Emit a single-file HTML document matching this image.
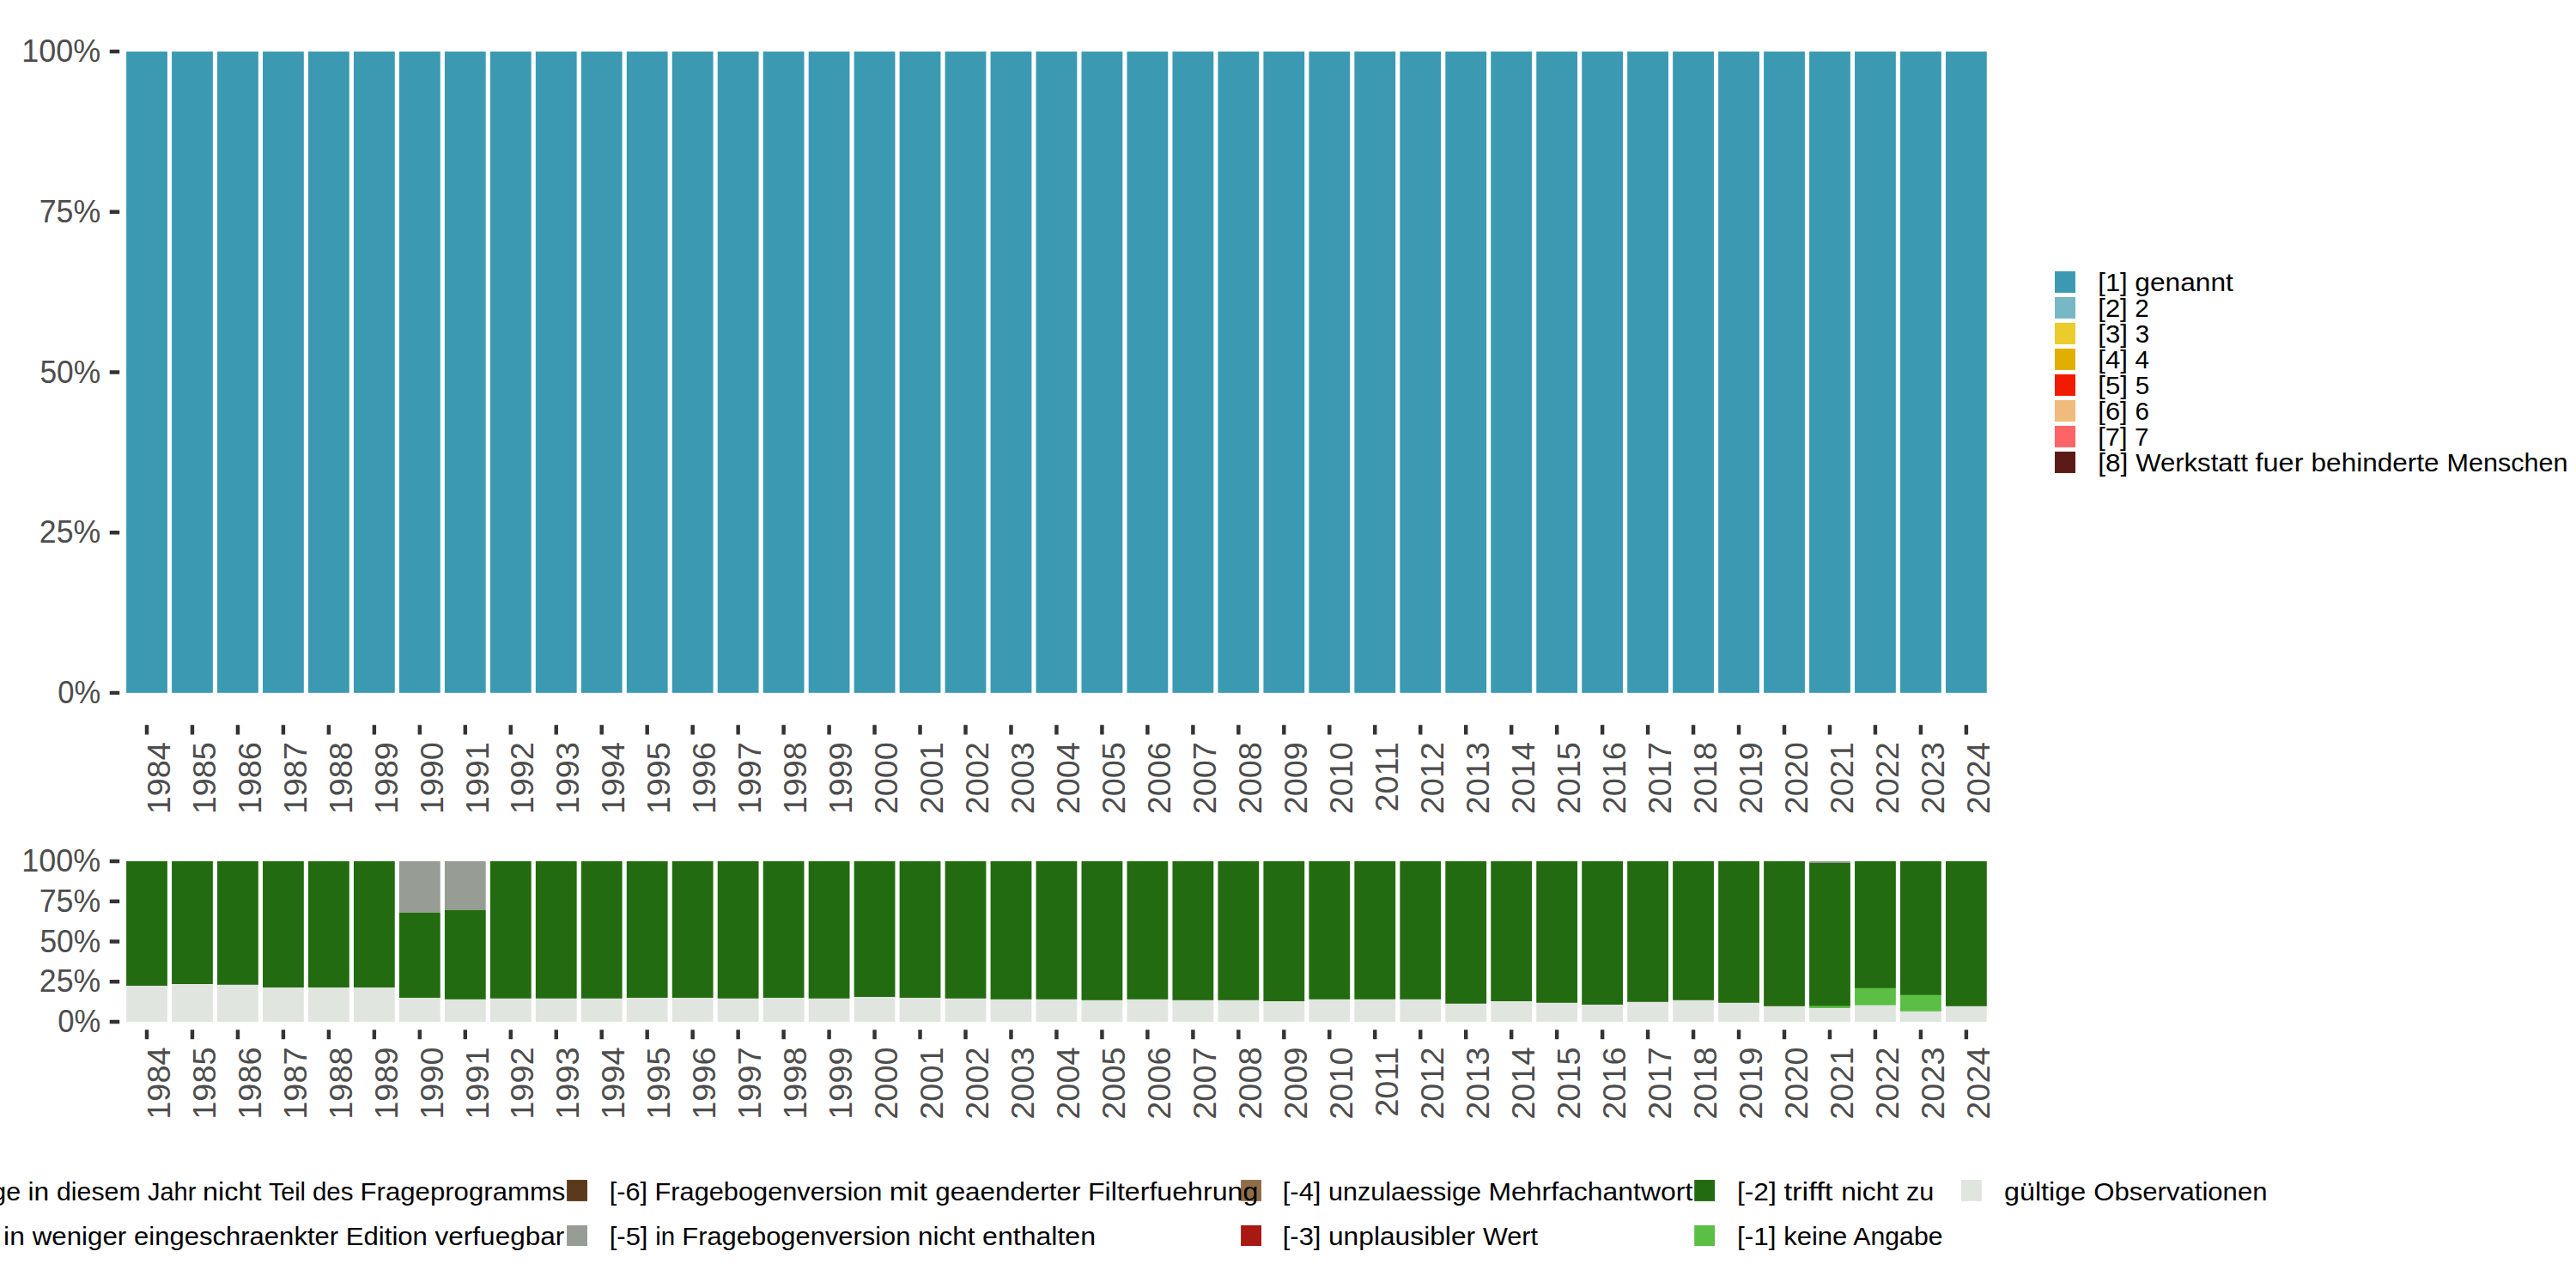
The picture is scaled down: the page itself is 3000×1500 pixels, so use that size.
<!DOCTYPE html>
<html lang="de"><head><meta charset="utf-8"><title>Werkstatt fuer behinderte Menschen</title>
<style>
html,body{margin:0;padding:0;background:#fff;}
body{width:3000px;height:1500px;overflow:hidden;}
svg{display:block;}
text{font-family:"Liberation Sans", sans-serif;}
.ax{fill:#4D4D4D;font-size:36.67px;}
.lg{fill:#000;font-size:29.6px;}
.tk{stroke:#333333;stroke-width:4.45;fill:none;}
</style></head><body>
<svg width="3000" height="1500" viewBox="0 0 3000 1500">
<rect x="0" y="0" width="3000" height="1500" fill="#ffffff"/>
<g fill="#3B9AB2">
<rect x="147.1" y="60.05" width="47.8" height="746.8"/>
<rect x="200.07" y="60.05" width="47.8" height="746.8"/>
<rect x="253.04" y="60.05" width="47.8" height="746.8"/>
<rect x="306.02" y="60.05" width="47.8" height="746.8"/>
<rect x="358.99" y="60.05" width="47.8" height="746.8"/>
<rect x="411.96" y="60.05" width="47.8" height="746.8"/>
<rect x="464.93" y="60.05" width="47.8" height="746.8"/>
<rect x="517.91" y="60.05" width="47.8" height="746.8"/>
<rect x="570.88" y="60.05" width="47.8" height="746.8"/>
<rect x="623.85" y="60.05" width="47.8" height="746.8"/>
<rect x="676.82" y="60.05" width="47.8" height="746.8"/>
<rect x="729.8" y="60.05" width="47.8" height="746.8"/>
<rect x="782.77" y="60.05" width="47.8" height="746.8"/>
<rect x="835.74" y="60.05" width="47.8" height="746.8"/>
<rect x="888.72" y="60.05" width="47.8" height="746.8"/>
<rect x="941.69" y="60.05" width="47.8" height="746.8"/>
<rect x="994.66" y="60.05" width="47.8" height="746.8"/>
<rect x="1047.63" y="60.05" width="47.8" height="746.8"/>
<rect x="1100.6" y="60.05" width="47.8" height="746.8"/>
<rect x="1153.58" y="60.05" width="47.8" height="746.8"/>
<rect x="1206.55" y="60.05" width="47.8" height="746.8"/>
<rect x="1259.52" y="60.05" width="47.8" height="746.8"/>
<rect x="1312.49" y="60.05" width="47.8" height="746.8"/>
<rect x="1365.47" y="60.05" width="47.8" height="746.8"/>
<rect x="1418.44" y="60.05" width="47.8" height="746.8"/>
<rect x="1471.41" y="60.05" width="47.8" height="746.8"/>
<rect x="1524.38" y="60.05" width="47.8" height="746.8"/>
<rect x="1577.36" y="60.05" width="47.8" height="746.8"/>
<rect x="1630.33" y="60.05" width="47.8" height="746.8"/>
<rect x="1683.3" y="60.05" width="47.8" height="746.8"/>
<rect x="1736.27" y="60.05" width="47.8" height="746.8"/>
<rect x="1789.25" y="60.05" width="47.8" height="746.8"/>
<rect x="1842.22" y="60.05" width="47.8" height="746.8"/>
<rect x="1895.19" y="60.05" width="47.8" height="746.8"/>
<rect x="1948.16" y="60.05" width="47.8" height="746.8"/>
<rect x="2001.14" y="60.05" width="47.8" height="746.8"/>
<rect x="2054.11" y="60.05" width="47.8" height="746.8"/>
<rect x="2107.08" y="60.05" width="47.8" height="746.8"/>
<rect x="2160.05" y="60.05" width="47.8" height="746.8"/>
<rect x="2213.03" y="60.05" width="47.8" height="746.8"/>
<rect x="2266" y="60.05" width="47.8" height="746.8"/>
</g>
<g>
<rect x="147.1" y="1003" width="47.8" height="145" fill="#236B10"/>
<rect x="147.1" y="1148" width="47.8" height="41.95" fill="#E1E5E0"/>
<rect x="200.07" y="1003" width="47.8" height="143.1" fill="#236B10"/>
<rect x="200.07" y="1146.1" width="47.8" height="43.85" fill="#E1E5E0"/>
<rect x="253.04" y="1003" width="47.8" height="143.9" fill="#236B10"/>
<rect x="253.04" y="1146.9" width="47.8" height="43.05" fill="#E1E5E0"/>
<rect x="306.02" y="1003" width="47.8" height="147" fill="#236B10"/>
<rect x="306.02" y="1150" width="47.8" height="39.95" fill="#E1E5E0"/>
<rect x="358.99" y="1003" width="47.8" height="147" fill="#236B10"/>
<rect x="358.99" y="1150" width="47.8" height="39.95" fill="#E1E5E0"/>
<rect x="411.96" y="1003" width="47.8" height="147" fill="#236B10"/>
<rect x="411.96" y="1150" width="47.8" height="39.95" fill="#E1E5E0"/>
<rect x="464.93" y="1003" width="47.8" height="59.8" fill="#979C95"/>
<rect x="464.93" y="1062.8" width="47.8" height="99.2" fill="#236B10"/>
<rect x="464.93" y="1162" width="47.8" height="27.95" fill="#E1E5E0"/>
<rect x="517.91" y="1003" width="47.8" height="56.8" fill="#979C95"/>
<rect x="517.91" y="1059.8" width="47.8" height="104.1" fill="#236B10"/>
<rect x="517.91" y="1163.9" width="47.8" height="26.05" fill="#E1E5E0"/>
<rect x="570.88" y="1003" width="47.8" height="159.9" fill="#236B10"/>
<rect x="570.88" y="1162.9" width="47.8" height="27.05" fill="#E1E5E0"/>
<rect x="623.85" y="1003" width="47.8" height="159.9" fill="#236B10"/>
<rect x="623.85" y="1162.9" width="47.8" height="27.05" fill="#E1E5E0"/>
<rect x="676.82" y="1003" width="47.8" height="159.9" fill="#236B10"/>
<rect x="676.82" y="1162.9" width="47.8" height="27.05" fill="#E1E5E0"/>
<rect x="729.8" y="1003" width="47.8" height="159" fill="#236B10"/>
<rect x="729.8" y="1162" width="47.8" height="27.95" fill="#E1E5E0"/>
<rect x="782.77" y="1003" width="47.8" height="159" fill="#236B10"/>
<rect x="782.77" y="1162" width="47.8" height="27.95" fill="#E1E5E0"/>
<rect x="835.74" y="1003" width="47.8" height="159.9" fill="#236B10"/>
<rect x="835.74" y="1162.9" width="47.8" height="27.05" fill="#E1E5E0"/>
<rect x="888.72" y="1003" width="47.8" height="159" fill="#236B10"/>
<rect x="888.72" y="1162" width="47.8" height="27.95" fill="#E1E5E0"/>
<rect x="941.69" y="1003" width="47.8" height="159.9" fill="#236B10"/>
<rect x="941.69" y="1162.9" width="47.8" height="27.05" fill="#E1E5E0"/>
<rect x="994.66" y="1003" width="47.8" height="158" fill="#236B10"/>
<rect x="994.66" y="1161" width="47.8" height="28.95" fill="#E1E5E0"/>
<rect x="1047.63" y="1003" width="47.8" height="159" fill="#236B10"/>
<rect x="1047.63" y="1162" width="47.8" height="27.95" fill="#E1E5E0"/>
<rect x="1100.6" y="1003" width="47.8" height="159.9" fill="#236B10"/>
<rect x="1100.6" y="1162.9" width="47.8" height="27.05" fill="#E1E5E0"/>
<rect x="1153.58" y="1003" width="47.8" height="160.9" fill="#236B10"/>
<rect x="1153.58" y="1163.9" width="47.8" height="26.05" fill="#E1E5E0"/>
<rect x="1206.55" y="1003" width="47.8" height="160.9" fill="#236B10"/>
<rect x="1206.55" y="1163.9" width="47.8" height="26.05" fill="#E1E5E0"/>
<rect x="1259.52" y="1003" width="47.8" height="161.9" fill="#236B10"/>
<rect x="1259.52" y="1164.9" width="47.8" height="25.05" fill="#E1E5E0"/>
<rect x="1312.49" y="1003" width="47.8" height="160.9" fill="#236B10"/>
<rect x="1312.49" y="1163.9" width="47.8" height="26.05" fill="#E1E5E0"/>
<rect x="1365.47" y="1003" width="47.8" height="161.9" fill="#236B10"/>
<rect x="1365.47" y="1164.9" width="47.8" height="25.05" fill="#E1E5E0"/>
<rect x="1418.44" y="1003" width="47.8" height="161.9" fill="#236B10"/>
<rect x="1418.44" y="1164.9" width="47.8" height="25.05" fill="#E1E5E0"/>
<rect x="1471.41" y="1003" width="47.8" height="163" fill="#236B10"/>
<rect x="1471.41" y="1166" width="47.8" height="23.95" fill="#E1E5E0"/>
<rect x="1524.38" y="1003" width="47.8" height="160.9" fill="#236B10"/>
<rect x="1524.38" y="1163.9" width="47.8" height="26.05" fill="#E1E5E0"/>
<rect x="1577.36" y="1003" width="47.8" height="160.9" fill="#236B10"/>
<rect x="1577.36" y="1163.9" width="47.8" height="26.05" fill="#E1E5E0"/>
<rect x="1630.33" y="1003" width="47.8" height="160.9" fill="#236B10"/>
<rect x="1630.33" y="1163.9" width="47.8" height="26.05" fill="#E1E5E0"/>
<rect x="1683.3" y="1003" width="47.8" height="165.9" fill="#236B10"/>
<rect x="1683.3" y="1168.9" width="47.8" height="21.05" fill="#E1E5E0"/>
<rect x="1736.27" y="1003" width="47.8" height="163" fill="#236B10"/>
<rect x="1736.27" y="1166" width="47.8" height="23.95" fill="#E1E5E0"/>
<rect x="1789.25" y="1003" width="47.8" height="164.9" fill="#236B10"/>
<rect x="1789.25" y="1167.9" width="47.8" height="22.05" fill="#E1E5E0"/>
<rect x="1842.22" y="1003" width="47.8" height="167" fill="#236B10"/>
<rect x="1842.22" y="1170" width="47.8" height="19.95" fill="#E1E5E0"/>
<rect x="1895.19" y="1003" width="47.8" height="163.9" fill="#236B10"/>
<rect x="1895.19" y="1166.9" width="47.8" height="23.05" fill="#E1E5E0"/>
<rect x="1948.16" y="1003" width="47.8" height="161.9" fill="#236B10"/>
<rect x="1948.16" y="1164.9" width="47.8" height="25.05" fill="#E1E5E0"/>
<rect x="2001.14" y="1003" width="47.8" height="164.9" fill="#236B10"/>
<rect x="2001.14" y="1167.9" width="47.8" height="22.05" fill="#E1E5E0"/>
<rect x="2054.11" y="1003" width="47.8" height="168.9" fill="#236B10"/>
<rect x="2054.11" y="1171.9" width="47.8" height="18.05" fill="#E1E5E0"/>
<rect x="2107.08" y="1003" width="47.8" height="2" fill="#979C95"/>
<rect x="2107.08" y="1005" width="47.8" height="166.8" fill="#236B10"/>
<rect x="2107.08" y="1171.8" width="47.8" height="2.3" fill="#5BBF45"/>
<rect x="2107.08" y="1174.1" width="47.8" height="15.85" fill="#E1E5E0"/>
<rect x="2160.05" y="1003" width="47.8" height="147.9" fill="#236B10"/>
<rect x="2160.05" y="1150.9" width="47.8" height="19.9" fill="#5BBF45"/>
<rect x="2160.05" y="1170.8" width="47.8" height="19.15" fill="#E1E5E0"/>
<rect x="2213.03" y="1003" width="47.8" height="155.9" fill="#236B10"/>
<rect x="2213.03" y="1158.9" width="47.8" height="19" fill="#5BBF45"/>
<rect x="2213.03" y="1177.9" width="47.8" height="12.05" fill="#E1E5E0"/>
<rect x="2266" y="1003" width="47.8" height="168.9" fill="#236B10"/>
<rect x="2266" y="1171.9" width="47.8" height="18.05" fill="#E1E5E0"/>
</g>
<path class="tk" d="M127.75 60.05H139.2M127.75 246.75H139.2M127.75 433.45H139.2M127.75 620.15H139.2M127.75 806.85H139.2M127.75 1003H139.2M127.75 1049.74H139.2M127.75 1096.47H139.2M127.75 1143.21H139.2M127.75 1189.95H139.2M171 844.2V855.6M223.97 844.2V855.6M276.94 844.2V855.6M329.92 844.2V855.6M382.89 844.2V855.6M435.86 844.2V855.6M488.83 844.2V855.6M541.81 844.2V855.6M594.78 844.2V855.6M647.75 844.2V855.6M700.72 844.2V855.6M753.7 844.2V855.6M806.67 844.2V855.6M859.64 844.2V855.6M912.62 844.2V855.6M965.59 844.2V855.6M1018.56 844.2V855.6M1071.53 844.2V855.6M1124.5 844.2V855.6M1177.48 844.2V855.6M1230.45 844.2V855.6M1283.42 844.2V855.6M1336.39 844.2V855.6M1389.37 844.2V855.6M1442.34 844.2V855.6M1495.31 844.2V855.6M1548.28 844.2V855.6M1601.26 844.2V855.6M1654.23 844.2V855.6M1707.2 844.2V855.6M1760.17 844.2V855.6M1813.15 844.2V855.6M1866.12 844.2V855.6M1919.09 844.2V855.6M1972.06 844.2V855.6M2025.04 844.2V855.6M2078.01 844.2V855.6M2130.98 844.2V855.6M2183.95 844.2V855.6M2236.93 844.2V855.6M2289.9 844.2V855.6M171 1199.2V1210.3M223.97 1199.2V1210.3M276.94 1199.2V1210.3M329.92 1199.2V1210.3M382.89 1199.2V1210.3M435.86 1199.2V1210.3M488.83 1199.2V1210.3M541.81 1199.2V1210.3M594.78 1199.2V1210.3M647.75 1199.2V1210.3M700.72 1199.2V1210.3M753.7 1199.2V1210.3M806.67 1199.2V1210.3M859.64 1199.2V1210.3M912.62 1199.2V1210.3M965.59 1199.2V1210.3M1018.56 1199.2V1210.3M1071.53 1199.2V1210.3M1124.5 1199.2V1210.3M1177.48 1199.2V1210.3M1230.45 1199.2V1210.3M1283.42 1199.2V1210.3M1336.39 1199.2V1210.3M1389.37 1199.2V1210.3M1442.34 1199.2V1210.3M1495.31 1199.2V1210.3M1548.28 1199.2V1210.3M1601.26 1199.2V1210.3M1654.23 1199.2V1210.3M1707.2 1199.2V1210.3M1760.17 1199.2V1210.3M1813.15 1199.2V1210.3M1866.12 1199.2V1210.3M1919.09 1199.2V1210.3M1972.06 1199.2V1210.3M2025.04 1199.2V1210.3M2078.01 1199.2V1210.3M2130.98 1199.2V1210.3M2183.95 1199.2V1210.3M2236.93 1199.2V1210.3M2289.9 1199.2V1210.3"/>
<text id="y0_0" class="ax" transform="translate(117.22 72.25) scale(0.9799 1)" text-anchor="end">100%</text>
<text id="y0_1" class="ax" transform="translate(117.22 258.95) scale(0.9743 1)" text-anchor="end">75%</text>
<text id="y0_2" class="ax" transform="translate(117.2 445.65) scale(0.9652 1)" text-anchor="end">50%</text>
<text id="y0_3" class="ax" transform="translate(117.21 632.35) scale(0.9730 1)" text-anchor="end">25%</text>
<text id="y0_4" class="ax" transform="translate(117.18 819.05) scale(0.9443 1)" text-anchor="end">0%</text>
<text id="y1_0" class="ax" transform="translate(117.22 1015.2) scale(0.9799 1)" text-anchor="end">100%</text>
<text id="y1_1" class="ax" transform="translate(117.22 1061.94) scale(0.9743 1)" text-anchor="end">75%</text>
<text id="y1_2" class="ax" transform="translate(117.2 1108.67) scale(0.9652 1)" text-anchor="end">50%</text>
<text id="y1_3" class="ax" transform="translate(117.21 1155.41) scale(0.9730 1)" text-anchor="end">25%</text>
<text id="y1_4" class="ax" transform="translate(117.18 1202.15) scale(0.9443 1)" text-anchor="end">0%</text>
<text id="x0_0" class="ax" transform="translate(197.7 864.25) rotate(-90) scale(1.0310 1)" text-anchor="end">1984</text>
<text id="x0_1" class="ax" transform="translate(250.67 864.25) rotate(-90) scale(1.0310 1)" text-anchor="end">1985</text>
<text id="x0_2" class="ax" transform="translate(303.64 864.25) rotate(-90) scale(1.0310 1)" text-anchor="end">1986</text>
<text id="x0_3" class="ax" transform="translate(356.62 864.25) rotate(-90) scale(1.0310 1)" text-anchor="end">1987</text>
<text id="x0_4" class="ax" transform="translate(409.59 864.25) rotate(-90) scale(1.0310 1)" text-anchor="end">1988</text>
<text id="x0_5" class="ax" transform="translate(462.56 864.25) rotate(-90) scale(1.0310 1)" text-anchor="end">1989</text>
<text id="x0_6" class="ax" transform="translate(515.53 864.25) rotate(-90) scale(1.0310 1)" text-anchor="end">1990</text>
<text id="x0_7" class="ax" transform="translate(568.51 864.25) rotate(-90) scale(1.0310 1)" text-anchor="end">1991</text>
<text id="x0_8" class="ax" transform="translate(621.48 864.25) rotate(-90) scale(1.0310 1)" text-anchor="end">1992</text>
<text id="x0_9" class="ax" transform="translate(674.45 864.25) rotate(-90) scale(1.0310 1)" text-anchor="end">1993</text>
<text id="x0_10" class="ax" transform="translate(727.42 864.25) rotate(-90) scale(1.0310 1)" text-anchor="end">1994</text>
<text id="x0_11" class="ax" transform="translate(780.4 864.25) rotate(-90) scale(1.0310 1)" text-anchor="end">1995</text>
<text id="x0_12" class="ax" transform="translate(833.37 864.25) rotate(-90) scale(1.0310 1)" text-anchor="end">1996</text>
<text id="x0_13" class="ax" transform="translate(886.34 864.25) rotate(-90) scale(1.0310 1)" text-anchor="end">1997</text>
<text id="x0_14" class="ax" transform="translate(939.32 864.25) rotate(-90) scale(1.0310 1)" text-anchor="end">1998</text>
<text id="x0_15" class="ax" transform="translate(992.29 864.25) rotate(-90) scale(1.0310 1)" text-anchor="end">1999</text>
<text id="x0_16" class="ax" transform="translate(1045.26 864.25) rotate(-90) scale(1.0310 1)" text-anchor="end">2000</text>
<text id="x0_17" class="ax" transform="translate(1098.23 864.25) rotate(-90) scale(1.0310 1)" text-anchor="end">2001</text>
<text id="x0_18" class="ax" transform="translate(1151.2 864.25) rotate(-90) scale(1.0310 1)" text-anchor="end">2002</text>
<text id="x0_19" class="ax" transform="translate(1204.18 864.25) rotate(-90) scale(1.0310 1)" text-anchor="end">2003</text>
<text id="x0_20" class="ax" transform="translate(1257.15 864.25) rotate(-90) scale(1.0310 1)" text-anchor="end">2004</text>
<text id="x0_21" class="ax" transform="translate(1310.12 864.25) rotate(-90) scale(1.0310 1)" text-anchor="end">2005</text>
<text id="x0_22" class="ax" transform="translate(1363.1 864.25) rotate(-90) scale(1.0310 1)" text-anchor="end">2006</text>
<text id="x0_23" class="ax" transform="translate(1416.07 864.25) rotate(-90) scale(1.0310 1)" text-anchor="end">2007</text>
<text id="x0_24" class="ax" transform="translate(1469.04 864.25) rotate(-90) scale(1.0310 1)" text-anchor="end">2008</text>
<text id="x0_25" class="ax" transform="translate(1522.01 864.25) rotate(-90) scale(1.0310 1)" text-anchor="end">2009</text>
<text id="x0_26" class="ax" transform="translate(1574.98 864.25) rotate(-90) scale(1.0310 1)" text-anchor="end">2010</text>
<text id="x0_27" class="ax" transform="translate(1627.96 864.25) rotate(-90) scale(1.0310 1)" text-anchor="end">2011</text>
<text id="x0_28" class="ax" transform="translate(1680.93 864.25) rotate(-90) scale(1.0310 1)" text-anchor="end">2012</text>
<text id="x0_29" class="ax" transform="translate(1733.9 864.25) rotate(-90) scale(1.0310 1)" text-anchor="end">2013</text>
<text id="x0_30" class="ax" transform="translate(1786.88 864.25) rotate(-90) scale(1.0310 1)" text-anchor="end">2014</text>
<text id="x0_31" class="ax" transform="translate(1839.85 864.25) rotate(-90) scale(1.0310 1)" text-anchor="end">2015</text>
<text id="x0_32" class="ax" transform="translate(1892.82 864.25) rotate(-90) scale(1.0310 1)" text-anchor="end">2016</text>
<text id="x0_33" class="ax" transform="translate(1945.79 864.25) rotate(-90) scale(1.0310 1)" text-anchor="end">2017</text>
<text id="x0_34" class="ax" transform="translate(1998.76 864.25) rotate(-90) scale(1.0310 1)" text-anchor="end">2018</text>
<text id="x0_35" class="ax" transform="translate(2051.74 864.25) rotate(-90) scale(1.0310 1)" text-anchor="end">2019</text>
<text id="x0_36" class="ax" transform="translate(2104.71 864.25) rotate(-90) scale(1.0310 1)" text-anchor="end">2020</text>
<text id="x0_37" class="ax" transform="translate(2157.68 864.25) rotate(-90) scale(1.0310 1)" text-anchor="end">2021</text>
<text id="x0_38" class="ax" transform="translate(2210.65 864.25) rotate(-90) scale(1.0310 1)" text-anchor="end">2022</text>
<text id="x0_39" class="ax" transform="translate(2263.63 864.25) rotate(-90) scale(1.0310 1)" text-anchor="end">2023</text>
<text id="x0_40" class="ax" transform="translate(2316.6 864.25) rotate(-90) scale(1.0310 1)" text-anchor="end">2024</text>
<text id="x1_0" class="ax" transform="translate(197.7 1219.55) rotate(-90) scale(1.0310 1)" text-anchor="end">1984</text>
<text id="x1_1" class="ax" transform="translate(250.67 1219.55) rotate(-90) scale(1.0310 1)" text-anchor="end">1985</text>
<text id="x1_2" class="ax" transform="translate(303.64 1219.55) rotate(-90) scale(1.0310 1)" text-anchor="end">1986</text>
<text id="x1_3" class="ax" transform="translate(356.62 1219.55) rotate(-90) scale(1.0310 1)" text-anchor="end">1987</text>
<text id="x1_4" class="ax" transform="translate(409.59 1219.55) rotate(-90) scale(1.0310 1)" text-anchor="end">1988</text>
<text id="x1_5" class="ax" transform="translate(462.56 1219.55) rotate(-90) scale(1.0310 1)" text-anchor="end">1989</text>
<text id="x1_6" class="ax" transform="translate(515.53 1219.55) rotate(-90) scale(1.0310 1)" text-anchor="end">1990</text>
<text id="x1_7" class="ax" transform="translate(568.51 1219.55) rotate(-90) scale(1.0310 1)" text-anchor="end">1991</text>
<text id="x1_8" class="ax" transform="translate(621.48 1219.55) rotate(-90) scale(1.0310 1)" text-anchor="end">1992</text>
<text id="x1_9" class="ax" transform="translate(674.45 1219.55) rotate(-90) scale(1.0310 1)" text-anchor="end">1993</text>
<text id="x1_10" class="ax" transform="translate(727.42 1219.55) rotate(-90) scale(1.0310 1)" text-anchor="end">1994</text>
<text id="x1_11" class="ax" transform="translate(780.4 1219.55) rotate(-90) scale(1.0310 1)" text-anchor="end">1995</text>
<text id="x1_12" class="ax" transform="translate(833.37 1219.55) rotate(-90) scale(1.0310 1)" text-anchor="end">1996</text>
<text id="x1_13" class="ax" transform="translate(886.34 1219.55) rotate(-90) scale(1.0310 1)" text-anchor="end">1997</text>
<text id="x1_14" class="ax" transform="translate(939.32 1219.55) rotate(-90) scale(1.0310 1)" text-anchor="end">1998</text>
<text id="x1_15" class="ax" transform="translate(992.29 1219.55) rotate(-90) scale(1.0310 1)" text-anchor="end">1999</text>
<text id="x1_16" class="ax" transform="translate(1045.26 1219.55) rotate(-90) scale(1.0310 1)" text-anchor="end">2000</text>
<text id="x1_17" class="ax" transform="translate(1098.23 1219.55) rotate(-90) scale(1.0310 1)" text-anchor="end">2001</text>
<text id="x1_18" class="ax" transform="translate(1151.2 1219.55) rotate(-90) scale(1.0310 1)" text-anchor="end">2002</text>
<text id="x1_19" class="ax" transform="translate(1204.18 1219.55) rotate(-90) scale(1.0310 1)" text-anchor="end">2003</text>
<text id="x1_20" class="ax" transform="translate(1257.15 1219.55) rotate(-90) scale(1.0310 1)" text-anchor="end">2004</text>
<text id="x1_21" class="ax" transform="translate(1310.12 1219.55) rotate(-90) scale(1.0310 1)" text-anchor="end">2005</text>
<text id="x1_22" class="ax" transform="translate(1363.1 1219.55) rotate(-90) scale(1.0310 1)" text-anchor="end">2006</text>
<text id="x1_23" class="ax" transform="translate(1416.07 1219.55) rotate(-90) scale(1.0310 1)" text-anchor="end">2007</text>
<text id="x1_24" class="ax" transform="translate(1469.04 1219.55) rotate(-90) scale(1.0310 1)" text-anchor="end">2008</text>
<text id="x1_25" class="ax" transform="translate(1522.01 1219.55) rotate(-90) scale(1.0310 1)" text-anchor="end">2009</text>
<text id="x1_26" class="ax" transform="translate(1574.98 1219.55) rotate(-90) scale(1.0310 1)" text-anchor="end">2010</text>
<text id="x1_27" class="ax" transform="translate(1627.96 1219.55) rotate(-90) scale(1.0310 1)" text-anchor="end">2011</text>
<text id="x1_28" class="ax" transform="translate(1680.93 1219.55) rotate(-90) scale(1.0310 1)" text-anchor="end">2012</text>
<text id="x1_29" class="ax" transform="translate(1733.9 1219.55) rotate(-90) scale(1.0310 1)" text-anchor="end">2013</text>
<text id="x1_30" class="ax" transform="translate(1786.88 1219.55) rotate(-90) scale(1.0310 1)" text-anchor="end">2014</text>
<text id="x1_31" class="ax" transform="translate(1839.85 1219.55) rotate(-90) scale(1.0310 1)" text-anchor="end">2015</text>
<text id="x1_32" class="ax" transform="translate(1892.82 1219.55) rotate(-90) scale(1.0310 1)" text-anchor="end">2016</text>
<text id="x1_33" class="ax" transform="translate(1945.79 1219.55) rotate(-90) scale(1.0310 1)" text-anchor="end">2017</text>
<text id="x1_34" class="ax" transform="translate(1998.76 1219.55) rotate(-90) scale(1.0310 1)" text-anchor="end">2018</text>
<text id="x1_35" class="ax" transform="translate(2051.74 1219.55) rotate(-90) scale(1.0310 1)" text-anchor="end">2019</text>
<text id="x1_36" class="ax" transform="translate(2104.71 1219.55) rotate(-90) scale(1.0310 1)" text-anchor="end">2020</text>
<text id="x1_37" class="ax" transform="translate(2157.68 1219.55) rotate(-90) scale(1.0310 1)" text-anchor="end">2021</text>
<text id="x1_38" class="ax" transform="translate(2210.65 1219.55) rotate(-90) scale(1.0310 1)" text-anchor="end">2022</text>
<text id="x1_39" class="ax" transform="translate(2263.63 1219.55) rotate(-90) scale(1.0310 1)" text-anchor="end">2023</text>
<text id="x1_40" class="ax" transform="translate(2316.6 1219.55) rotate(-90) scale(1.0310 1)" text-anchor="end">2024</text>
<rect x="2393" y="315.95" width="24" height="25" fill="#3B9AB2"/>
<text id="rl0" class="lg" y="338.7"><tspan x="2443.31" textLength="34.42" lengthAdjust="spacingAndGlyphs">[1]</tspan> <tspan x="2486.28" textLength="114.64" lengthAdjust="spacingAndGlyphs">genannt</tspan></text>
<rect x="2393" y="345.95" width="24" height="25" fill="#78B7C5"/>
<text id="rl1" class="lg" y="368.7"><tspan x="2443.31" textLength="34.37" lengthAdjust="spacingAndGlyphs">[2]</tspan> <tspan x="2486.35">2</tspan></text>
<rect x="2393" y="375.95" width="24" height="25" fill="#EBCC2A"/>
<text id="rl2" class="lg" y="398.7"><tspan x="2443.3" textLength="34.58" lengthAdjust="spacingAndGlyphs">[3]</tspan> <tspan x="2486.63">3</tspan></text>
<rect x="2393" y="405.95" width="24" height="25" fill="#E1AF00"/>
<text id="rl3" class="lg" y="428.7"><tspan x="2443.3" textLength="34.6" lengthAdjust="spacingAndGlyphs">[4]</tspan> <tspan x="2486.57">4</tspan></text>
<rect x="2393" y="435.95" width="24" height="25" fill="#F21A00"/>
<text id="rl4" class="lg" y="458.7"><tspan x="2443.3" textLength="34.58" lengthAdjust="spacingAndGlyphs">[5]</tspan> <tspan x="2486.63">5</tspan></text>
<rect x="2393" y="465.95" width="24" height="25" fill="#F1BB7B"/>
<text id="rl5" class="lg" y="488.7"><tspan x="2443.31" textLength="34.37" lengthAdjust="spacingAndGlyphs">[6]</tspan> <tspan x="2486.38">6</tspan></text>
<rect x="2393" y="495.95" width="24" height="25" fill="#FD6467"/>
<text id="rl6" class="lg" y="518.7"><tspan x="2443.32" textLength="34.16" lengthAdjust="spacingAndGlyphs">[7]</tspan> <tspan x="2486.08">7</tspan></text>
<rect x="2393" y="525.95" width="24" height="25" fill="#5B1A18"/>
<text id="rl7" class="lg" y="548.7"><tspan x="2443.26" textLength="35.13" lengthAdjust="spacingAndGlyphs">[8]</tspan> <tspan x="2487.15" textLength="130.72" lengthAdjust="spacingAndGlyphs">Werkstatt</tspan> <tspan x="2626.47" textLength="56.01" lengthAdjust="spacingAndGlyphs">fuer</tspan> <tspan x="2691.55" textLength="149.11" lengthAdjust="spacingAndGlyphs">behinderte</tspan> <tspan x="2849.48" textLength="141.05" lengthAdjust="spacingAndGlyphs">Menschen</tspan></text>
<rect x="-157.5" y="1374.05" width="23.9" height="24.85" fill="#7A0403"/>
<rect x="-153.8" y="1427" width="23.9" height="24" fill="#C9B08A"/>
<rect x="660.1" y="1374.05" width="23.9" height="24.85" fill="#5A3A1A"/>
<rect x="660.1" y="1427" width="23.9" height="24" fill="#979C95"/>
<rect x="1445.1" y="1374.05" width="23.9" height="24.85" fill="#8F6D49"/>
<rect x="1445.1" y="1427" width="23.9" height="24" fill="#A81912"/>
<rect x="1973.2" y="1374.05" width="23.9" height="24.85" fill="#236B10"/>
<rect x="1973.2" y="1427" width="23.9" height="24" fill="#5BBF45"/>
<rect x="2284" y="1374.05" width="23.9" height="24.85" fill="#E1E5E0"/>
<text id="bl0_0" class="lg" y="1397.5"><tspan x="-107.56" textLength="43.9" lengthAdjust="spacingAndGlyphs">[-8]</tspan> <tspan x="-55.24" textLength="79.37" lengthAdjust="spacingAndGlyphs">Frage</tspan> <tspan x="32.46" textLength="24.71" lengthAdjust="spacingAndGlyphs">in</tspan> <tspan x="66.02" textLength="97.6" lengthAdjust="spacingAndGlyphs">diesem</tspan> <tspan x="172.03" textLength="56.31" lengthAdjust="spacingAndGlyphs">Jahr</tspan> <tspan x="236.13" textLength="68.31" lengthAdjust="spacingAndGlyphs">nicht</tspan> <tspan x="312.89" textLength="43.11" lengthAdjust="spacingAndGlyphs">Teil</tspan> <tspan x="363.95" textLength="47.55" lengthAdjust="spacingAndGlyphs">des</tspan> <tspan x="419.57" textLength="238.85" lengthAdjust="spacingAndGlyphs">Frageprogramms</tspan></text>
<text id="bl0_1" class="lg" y="1449.9"><tspan x="-103.88" textLength="45.31" lengthAdjust="spacingAndGlyphs">[-7]</tspan> <tspan x="-49.88" textLength="45.34" lengthAdjust="spacingAndGlyphs">nur</tspan> <tspan x="4.12" textLength="24.74" lengthAdjust="spacingAndGlyphs">in</tspan> <tspan x="37.67" textLength="109.62" lengthAdjust="spacingAndGlyphs">weniger</tspan> <tspan x="155.97" textLength="238.18" lengthAdjust="spacingAndGlyphs">eingeschraenkter</tspan> <tspan x="402.75" textLength="95.19" lengthAdjust="spacingAndGlyphs">Edition</tspan> <tspan x="506.57" textLength="150.7" lengthAdjust="spacingAndGlyphs">verfuegbar</tspan></text>
<text id="bl1_0" class="lg" y="1397.5"><tspan x="709.73" textLength="44.34" lengthAdjust="spacingAndGlyphs">[-6]</tspan> <tspan x="762.57" textLength="264.87" lengthAdjust="spacingAndGlyphs">Fragebogenversion</tspan> <tspan x="1035.79" textLength="44.15" lengthAdjust="spacingAndGlyphs">mit</tspan> <tspan x="1089.19" textLength="169.16" lengthAdjust="spacingAndGlyphs">geaenderter</tspan> <tspan x="1266.99" textLength="198.33" lengthAdjust="spacingAndGlyphs">Filterfuehrung</tspan></text>
<text id="bl1_1" class="lg" y="1449.9"><tspan x="709.71" textLength="44.78" lengthAdjust="spacingAndGlyphs">[-5]</tspan> <tspan x="763.17" textLength="23.01" lengthAdjust="spacingAndGlyphs">in</tspan> <tspan x="794.27" textLength="266.23" lengthAdjust="spacingAndGlyphs">Fragebogenversion</tspan> <tspan x="1069.03" textLength="66.37" lengthAdjust="spacingAndGlyphs">nicht</tspan> <tspan x="1144.08" textLength="131.96" lengthAdjust="spacingAndGlyphs">enthalten</tspan></text>
<text id="bl2_0" class="lg" y="1397.5"><tspan x="1493.81" textLength="44.61" lengthAdjust="spacingAndGlyphs">[-4]</tspan> <tspan x="1547.01" textLength="178.06" lengthAdjust="spacingAndGlyphs">unzulaessige</tspan> <tspan x="1733.4" textLength="237.93" lengthAdjust="spacingAndGlyphs">Mehrfachantwort</tspan></text>
<text id="bl2_1" class="lg" y="1449.9"><tspan x="1493.81" textLength="44.61" lengthAdjust="spacingAndGlyphs">[-3]</tspan> <tspan x="1546.92" textLength="171.24" lengthAdjust="spacingAndGlyphs">unplausibler</tspan> <tspan x="1726.97" textLength="64.07" lengthAdjust="spacingAndGlyphs">Wert</tspan></text>
<text id="bl3_0" class="lg" y="1397.5"><tspan x="2022.96" textLength="45.79" lengthAdjust="spacingAndGlyphs">[-2]</tspan> <tspan x="2077.48" textLength="56.97" lengthAdjust="spacingAndGlyphs">trifft</tspan> <tspan x="2144.24" textLength="66.86" lengthAdjust="spacingAndGlyphs">nicht</tspan> <tspan x="2219.92" textLength="32.33" lengthAdjust="spacingAndGlyphs">zu</tspan></text>
<text id="bl3_1" class="lg" y="1449.9"><tspan x="2022.97" textLength="45.45" lengthAdjust="spacingAndGlyphs">[-1]</tspan> <tspan x="2077.17" textLength="74.14" lengthAdjust="spacingAndGlyphs">keine</tspan> <tspan x="2158.21" textLength="104.38" lengthAdjust="spacingAndGlyphs">Angabe</tspan></text>
<text id="bl4_0" class="lg" y="1397.5"><tspan x="2333.93" textLength="95.35" lengthAdjust="spacingAndGlyphs">gültige</tspan> <tspan x="2438.3" textLength="202.2" lengthAdjust="spacingAndGlyphs">Observationen</tspan></text>
</svg>
</body></html>
